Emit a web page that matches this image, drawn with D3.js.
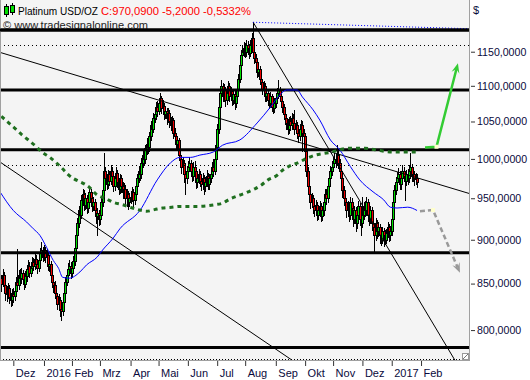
<!DOCTYPE html>
<html><head><meta charset="utf-8">
<script src="https://cdn.jsdelivr.net/npm/d3@7"></script>
<style>
body{margin:0;background:#fff}
svg{display:block}
text{font-family:"Liberation Sans",Arial,sans-serif}
</style>
</head><body>
<svg id="c" width="530" height="380"></svg>
<script>
// ---- data: daily OHLC, Platinum USD/OZ, 17 Nov 2015 .. 27 Jan 2017 (trading-day index 0..313)
const opens = [
850,856,850,860,848,840,838,845,835,832,
838,836,842,852,848,860,856,862,855,850,858,866,870,862,868,874,870,878,872,868,876,884,888,
880,888,880,882,870,872,860,852,848,840,836,828,832,822,820,830,840,852,860,866,870,
862,868,875,890,905,920,935,930,948,955,942,950,938,945,958,950,940,945,935,928,932,
925,930,945,960,985,975,968,980,972,985,978,965,975,982,970,962,975,965,958,962,950,955,945,
950,952,958,948,955,965,975,985,980,995,1005,1000,1012,1020,1015,1030,1045,1040,1055,1060,1070,
1065,1075,1082,1068,1072,1060,1065,1055,1062,1050,1045,1052,1035,1030,1020,1025,1005,1000,990,995,980,975,
985,990,995,985,978,990,985,970,975,980,972,968,975,965,970,978,968,975,980,990,985,1000,
1015,1040,1070,1090,1100,1085,1095,1080,1090,1100,1085,1092,1080,1088,1075,1085,1095,1110,1130,1145,1150,
1155,1150,1160,1155,1148,1160,1170,1150,1140,1135,1120,1125,1110,1105,1095,1100,1085,1090,1080,1075,1085,1070,1068,
1075,1082,1090,1095,1085,1078,1070,1060,1055,1048,1040,1050,1045,1055,1048,1040,1045,1035,1030,1040,1045,1035,
1030,1010,985,965,955,945,950,940,935,942,930,935,940,928,935,945,955,950,965,975,985,
990,995,1000,998,1005,995,985,975,960,950,945,935,940,930,945,938,925,935,920,930,940,925,
920,930,940,935,945,930,925,935,920,915,905,920,910,915,905,900,910,905,900,908,915,905,
910,925,945,960,970,975,980,968,975,985,978,972,980,975,985,990,978,980,975,975.29];
const highs = [
862,860,866,863,852,847,851,848,840,844,
845,848,857,889,865,866,868,865,860,864,871,877,874,873,880,879,883,882,876,881,890,897,892,
894,891,889,886,879,875,864,858,853,846,840,838,835,829,835,845,857,866,873,877,874,
874,881,895,910,926,941,944,954,962,960,957,954,951,965,962,954,952,949,940,938,936,
937,950,966,1008,990,980,986,984,992,990,981,982,989,986,974,980,979,970,969,966,961,959,957,
959,964,962,961,971,981,991,994,1001,1011,1014,1018,1027,1029,1036,1051,1053,1061,1068,1077,1079,
1082,1090,1086,1080,1076,1072,1069,1068,1066,1056,1058,1055,1041,1034,1031,1028,1011,1004,1002,998,986,991,
997,1003,999,990,996,997,988,982,987,985,978,982,979,977,986,982,981,987,996,1000,1018,1022,
1046,1076,1097,1108,1104,1102,1099,1097,1107,1104,1099,1096,1094,1092,1091,1101,1117,1137,1152,1160,1165,
1163,1167,1166,1161,1168,1178,1195,1156,1147,1140,1132,1129,1116,1110,1107,1104,1097,1094,1086,1091,1089,1076,1082,
1089,1097,1108,1099,1090,1082,1074,1066,1060,1053,1056,1057,1061,1060,1066,1052,1049,1041,1046,1052,1050,1040,
1034,1014,990,970,961,957,954,946,948,946,941,947,944,941,951,961,962,971,981,991,997,
1002,1008,1007,1018,1010,1000,990,979,965,956,950,947,944,952,950,942,941,939,936,947,944,931,
952,946,947,951,949,936,941,939,926,920,926,924,921,919,910,915,914,911,913,921,919,916,
931,951,966,977,983,988,984,982,992,990,983,986,987,992,1008,994,987,985,982,980];
const lows = [
845,842,847,843,832,831,834,829,826,827,
830,832,838,843,844,850,851,849,844,846,853,861,857,858,864,865,866,867,862,864,872,880,875,
876,874,873,865,864,855,846,841,834,830,822,821,815,811,816,826,836,848,855,860,856,
857,863,871,886,900,915,922,926,942,935,937,932,933,940,944,934,935,928,920,905,918,
919,926,940,955,968,961,963,966,968,971,959,960,970,964,955,957,958,950,952,943,940,937,940,
944,947,938,943,950,960,970,973,976,990,992,995,1007,1008,1010,1025,1032,1036,1049,1054,1058,
1060,1069,1061,1062,1053,1055,1047,1049,1043,1038,1040,1028,1022,1012,1014,998,992,982,984,970,955,969,
979,985,978,971,973,978,963,964,969,965,960,962,955,959,965,961,962,970,975,978,980,995,
1010,1035,1064,1083,1078,1079,1072,1074,1085,1078,1080,1073,1074,1067,1070,1080,1090,1105,1124,1139,1143,
1142,1144,1147,1140,1143,1153,1143,1133,1127,1113,1114,1103,1097,1088,1089,1078,1079,1073,1068,1070,1064,1062,1063,
1070,1077,1085,1078,1071,1063,1053,1047,1040,1033,1035,1038,1040,1041,1033,1034,1027,1022,1025,1034,1010,1022,
1003,978,958,947,938,939,932,928,929,924,925,929,922,923,930,940,943,946,960,970,979,
984,989,990,992,988,977,967,952,942,937,927,928,922,925,930,916,920,910,914,925,917,906,
915,925,928,930,922,917,920,912,907,886,900,902,904,896,894,896,893,895,896,903,899,900,
906,920,940,955,964,970,961,962,970,971,948,966,968,970,980,971,972,967,968,964];
const closes = [
856,850,860,848,840,838,845,835,832,838,
836,842,852,848,860,856,862,855,850,858,866,870,862,868,874,870,878,872,868,876,884,888,880,
888,880,882,870,872,860,852,848,840,836,828,832,822,820,830,840,852,860,866,870,862,
868,875,890,905,920,935,930,948,955,942,950,938,945,958,950,940,945,935,928,932,925,
930,945,960,985,975,968,980,972,985,978,965,975,982,970,962,975,965,958,962,950,955,945,950,
952,958,948,955,965,975,985,980,995,1005,1000,1012,1020,1015,1030,1045,1040,1055,1060,1070,1065,
1075,1082,1068,1072,1060,1065,1055,1062,1050,1045,1052,1035,1030,1020,1025,1005,1000,990,995,980,975,985,
990,995,985,978,990,985,970,975,980,972,968,975,965,970,978,968,975,980,990,985,1000,1015,
1040,1070,1090,1100,1085,1095,1080,1090,1100,1085,1092,1080,1088,1075,1085,1095,1110,1130,1145,1150,1155,
1150,1160,1155,1148,1160,1170,1150,1140,1135,1120,1125,1110,1105,1095,1100,1085,1090,1080,1075,1085,1070,1068,1075,
1082,1090,1095,1085,1078,1070,1060,1055,1048,1040,1050,1045,1055,1048,1040,1045,1035,1030,1040,1045,1035,1030,
1010,985,965,955,945,950,940,935,942,930,935,940,928,935,945,955,950,965,975,985,990,
995,1000,998,1005,995,985,975,960,950,945,935,940,930,945,938,925,935,920,930,940,925,920,
930,940,935,945,930,925,935,920,915,905,920,910,915,905,900,910,905,900,908,915,905,910,
925,945,960,970,975,980,968,975,985,978,972,980,975,985,990,978,980,975,975.29,970.09];

// moving averages (at sample days)
const maBlueIdx = [0,10,20,25,30,35,40,44,47,52,60,65,73,77,85,90,105,118,128,135,143,150,160,167,180,193,203,210,215,223,227,235,240,248,255,263,270,280,288,293,298,306,313];
const maBlueVal = [958,935,921,913,905,891,876,867,857,856,863,871,880,888,902,913,935,973,995,1002,1002,1005,1009,1018,1025,1048,1070,1087,1094,1094,1084,1066,1052,1025,1012,990,973,958,948,939,938,939,935];
const maGreenIdx = [1,11,16.5,26,31.5,37.5,46.5,51,67.5,73,79,85,92,97.5,103.5,110,116,122,129,135,148,161,167,172.5,178.5,185,196.5,201,208,212.5,217.5,223.5,230.5,236.5,242.5,249,255,261,274,281.5,295,313];
const maGreenVal = [1057,1041,1032,1018,1009,1002,988,980,963,954,950,945,942,939,936,934,936,938,939,940,940,942,944,949,953,957,967,973,979,986,991,995,1001,1005,1007,1009,1012,1014,1014,1012,1009,1009];

// support / resistance levels and trendlines
const levelsThick = [1183,1094,1012,885,782];
const levelsDotted = [1160,992];
const trendLines = [ [[0,1149],[352,956]], [[0,996],[225,764]], [[190,1195],[341.5,769]] ];
const trendBlueDotted = [[190,1195],[352,1185]];
const arrowUp = [[319,1015],[327.6,1016],[343.7,1133]];
const arrowDown = [[315.2,934],[325,935.5],[345.2,862]];

// axes
const yTicks = [800,850,900,950,1000,1050,1100,1150];
const monthIdx = [10,33,54,75,98,119,141,163,184,207,229,250,272,294,316];
const monthLabels = ["Dez","2016","Feb","Mrz","Apr","Mai","Jun","Jul","Aug","Sep","Okt","Nov","Dez","2017","Feb"];

const svg = d3.select("#c");
const PW = 469, PH = 360;
const x = d3.scaleLinear().domain([0,352]).range([0,PW]);
const y = d3.scaleLog().domain([769.4,1230.2]).range([PH,0]);

svg.append("defs").append("clipPath").attr("id","clip")
  .append("rect").attr("x",0).attr("y",0).attr("width",PW).attr("height",PH);

svg.append("rect").attr("x",0).attr("y",0).attr("width",PW).attr("height",PH).attr("fill","#f4f4f4");

const plot = svg.append("g").attr("clip-path","url(#clip)");

// candles
const cg = plot.append("g");
closes.forEach((c,i)=>{
  const o = opens[i], hi = highs[i], lo = lows[i];
  const L = Math.round(x(i)) - 1;
  cg.append("line").attr("x1",L+1.5).attr("x2",L+1.5)
    .attr("y1",Math.round(y(hi))).attr("y2",Math.round(y(lo))+1)
    .attr("stroke","#000").attr("stroke-width",1);
  const t = Math.round(y(Math.max(o,c))), b = Math.round(y(Math.min(o,c)));
  cg.append("rect").attr("x",L+0.5).attr("y",t+0.5).attr("width",2).attr("height",Math.max(1,b-t))
    .attr("fill", c>=o ? "#00e000" : "#ee0000").attr("stroke","#000").attr("stroke-width",1);
});

// levels
levelsThick.forEach(v=>{
  plot.append("line").attr("x1",0).attr("x2",PW).attr("y1",y(v)).attr("y2",y(v))
    .attr("stroke","#000").attr("stroke-width",3);
});
levelsDotted.forEach(v=>{
  const yy = Math.round(y(v))+0.5;
  plot.append("line").attr("x1",0).attr("x2",PW).attr("y1",yy).attr("y2",yy)
    .attr("stroke","#000").attr("stroke-width",1).attr("stroke-dasharray","1,3");
});
// bottom dotted border
plot.append("line").attr("x1",0).attr("x2",PW).attr("y1",359.5).attr("y2",359.5)
  .attr("stroke","#000").attr("stroke-width",1).attr("stroke-dasharray","1,2");

const ln = d3.line().x(d=>x(d[0])).y(d=>y(d[1]));
trendLines.forEach(t=>{
  plot.append("path").attr("d",ln(t)).attr("fill","none").attr("stroke","#000").attr("stroke-width",1);
});
plot.append("path").attr("d",ln(trendBlueDotted)).attr("fill","none").attr("stroke","#0000ff")
  .attr("stroke-width",1).attr("stroke-dasharray","1,2");

// moving averages
const blue = maBlueIdx.map((d,i)=>[d,maBlueVal[i]]);
const green = maGreenIdx.map((d,i)=>[d,maGreenVal[i]]);
const lc = d3.line().x(d=>x(d[0])).y(d=>y(d[1])).curve(d3.curveMonotoneX);
plot.append("path").attr("d",lc(blue)).attr("fill","none").attr("stroke","#0000ff").attr("stroke-width",1);
plot.append("path").attr("d",lc(green)).attr("fill","none").attr("stroke","#1f6f1f")
  .attr("stroke-width",3).attr("stroke-dasharray","4,4");

// projection arrows
function arrow(pts, color, dash){
  const p = pts.map(d=>[x(d[0]),y(d[1])]);
  const n = p.length, tip = p[n-1], prev = p[n-2];
  const dx = tip[0]-prev[0], dy = tip[1]-prev[1], len = Math.hypot(dx,dy);
  const ux = dx/len, uy = dy/len, hl = 10, hw = 4;
  const base = [tip[0]-ux*hl, tip[1]-uy*hl];
  const body = p.slice(0,n-1).concat([[tip[0]-ux*6, tip[1]-uy*6]]);
  plot.append("path").attr("d",d3.line()(body)).attr("fill","none").attr("stroke",color)
    .attr("stroke-width",2.5).attr("stroke-dasharray",dash||null);
  plot.append("path").attr("d",d3.line()([tip,[base[0]-uy*hw,base[1]+ux*hw],[tip[0]-ux*6,tip[1]-uy*6],[base[0]+uy*hw,base[1]-ux*hw]])+"Z")
    .attr("fill",color);
  plot.append("rect").attr("x",p[1][0]-2).attr("y",p[1][1]-2).attr("width",4).attr("height",4)
    .attr("fill","#ffffcc");
}
arrow(arrowUp,"#33cc33");
arrow(arrowDown,"#999999","5,3");

// borders
svg.append("line").attr("x1",PW+0.5).attr("x2",PW+0.5).attr("y1",0).attr("y2",PH+1).attr("stroke","#a0a0a0");
svg.append("line").attr("x1",0.5).attr("x2",0.5).attr("y1",0).attr("y2",PH+1).attr("stroke","#a0a0a0");
svg.append("line").attr("x1",0).attr("x2",PW+1).attr("y1",PH+0.5).attr("y2",PH+0.5).attr("stroke","#a0a0a0");
// resize grip
svg.append("rect").attr("x",462.5).attr("y",353.5).attr("width",6).attr("height",6).attr("fill","#fff").attr("stroke","#999");
svg.append("line").attr("x1",463).attr("y1",359).attr("x2",468).attr("y2",354).attr("stroke","#777");

// y axis
const fmt = d=>d3.format(".4f")(d).replace(".",",");
const ya = svg.append("g").attr("transform",`translate(${PW+2},0)`)
  .call(d3.axisRight(y).tickValues(yTicks).tickSize(4).tickPadding(2).tickFormat(fmt));
ya.select(".domain").remove();
ya.selectAll("line").attr("stroke","#333");
ya.selectAll("text").attr("fill","#0a0a3c").style("font-size","10.6px").attr("font-family",null);

// x axis
const xa = svg.append("g").attr("transform",`translate(0,${PH+1})`)
  .call(d3.axisBottom(x).tickValues(monthIdx).tickSize(5).tickPadding(3).tickFormat((d,i)=>monthLabels[i]));
xa.select(".domain").remove();
xa.selectAll("line").attr("stroke","#333");
xa.selectAll("text").attr("fill","#0a0a3c").style("font-size","11px").attr("text-anchor","start").attr("dx",2).attr("font-family",null);

// title
const ic = svg.append("g");
ic.append("line").attr("x1",6.5).attr("x2",6.5).attr("y1",4).attr("y2",17).attr("stroke","#000");
ic.append("rect").attr("x",4.5).attr("y",6.5).attr("width",4).attr("height",8).attr("fill","#00dd00").attr("stroke","#000");
ic.append("line").attr("x1",12.5).attr("x2",12.5).attr("y1",3).attr("y2",15).attr("stroke","#000");
ic.append("rect").attr("x",10.5).attr("y",5.5).attr("width",4).attr("height",7).attr("fill","#00dd00").attr("stroke","#000");
svg.append("text").attr("x",18).attr("y",15).attr("fill","#000").style("font-size","11.5px")
  .attr("textLength",80).attr("lengthAdjust","spacingAndGlyphs").text("Platinum USD/OZ");
svg.append("text").attr("x",101).attr("y",15).attr("fill","#ff0000").style("font-size","11.5px")
  .attr("textLength",150).attr("lengthAdjust","spacingAndGlyphs").text("C:970,0900 -5,2000 -0,5332%");
svg.append("text").attr("x",3).attr("y",29).attr("fill","#222").style("font-size","11.5px")
  .attr("textLength",145).attr("lengthAdjust","spacingAndGlyphs").text("© www.tradesignalonline.com");
// redraw top thick line over copyright text
svg.append("line").attr("x1",0).attr("x2",PW).attr("y1",y(levelsThick[0])).attr("y2",y(levelsThick[0]))
  .attr("stroke","#000").attr("stroke-width",3);
svg.append("text").attr("x",473).attr("y",14).attr("fill","#0a0a3c").style("font-size","11px").text("$");
</script>
</body></html>
